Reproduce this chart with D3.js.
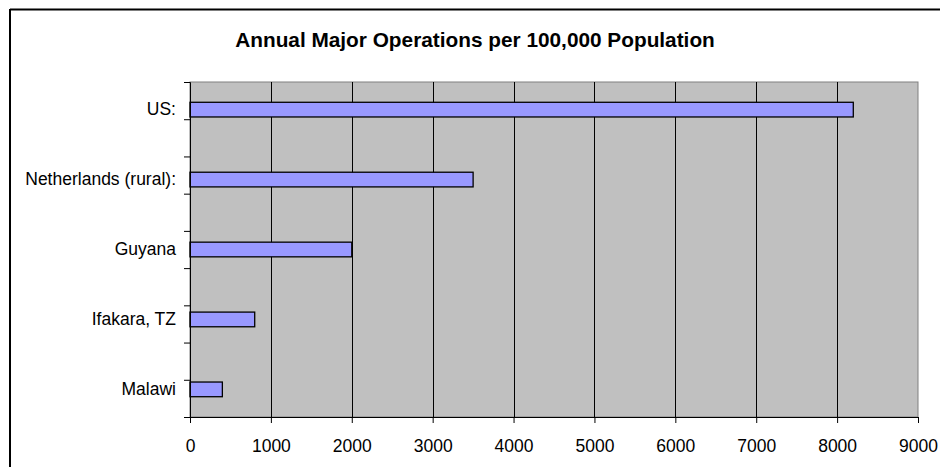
<!DOCTYPE html>
<html>

<head>
	<meta charset="utf-8">
	<title>Annual Major Operations</title>
	<script type="text/javascript" src="https://cdn.jsdelivr.net/npm/d3@7"></script>
	<style>
		body { margin: 0; background: #fff; }
		text { font-family: "Liberation Sans", Arial, sans-serif; }
	</style>
</head>

<body>
	<div id="chart"></div>

	<script type="text/javascript">
		// categories top to bottom, blanks are the empty rows in the sheet
		var categories = ["US:", "", "Netherlands (rural):", "", "Guyana", "", "Ifakara, TZ", "", "Malawi"];
		var values = [8200, null, 3500, null, 2000, null, 800, null, 400];
		var xTicks = [0, 1000, 2000, 3000, 4000, 5000, 6000, 7000, 8000, 9000];
		var title = "Annual Major Operations per 100,000 Population";

		var width = 940, height = 467;
		var plot = { left: 190, top: 82, right: 918, bottom: 417 };
		var font = "Liberation Sans, Arial, sans-serif";

		var svg = d3.select("#chart").append("svg")
			.attr("width", width).attr("height", height);

		// outer chart border (top + left only, rest is cropped)
		svg.append("line").attr("x1", 10).attr("x2", width).attr("y1", 9.5).attr("y2", 9.5)
			.attr("stroke", "#000").attr("stroke-width", 2);
		svg.append("line").attr("x1", 10).attr("x2", 10).attr("y1", 9).attr("y2", height)
			.attr("stroke", "#000").attr("stroke-width", 2);

		svg.append("text")
			.attr("x", 475).attr("y", 47)
			.attr("text-anchor", "middle")
			.attr("font-size", 20.8).attr("font-weight", "bold")
			.text(title);

		var x = d3.scaleLinear().domain([0, 9000]).range([plot.left, plot.right]);
		var y = d3.scaleBand().domain(d3.range(categories.length))
			.range([plot.top, plot.bottom]).padding(0.58);
		var yEdge = d3.scaleLinear().domain([0, categories.length]).range([plot.top, plot.bottom]);

		// plot area
		svg.append("rect")
			.attr("x", plot.left).attr("y", plot.top)
			.attr("width", plot.right - plot.left).attr("height", plot.bottom - plot.top)
			.attr("fill", "#c0c0c0").attr("stroke", "#808080");

		// gridlines
		svg.append("g").selectAll("line")
			.data(xTicks.slice(1, -1))
			.enter().append("line")
			.attr("x1", d => Math.round(x(d)) + 0.5).attr("x2", d => Math.round(x(d)) + 0.5)
			.attr("y1", plot.top).attr("y2", plot.bottom)
			.attr("stroke", "#000");

		// bars
		svg.append("g").selectAll("rect")
			.data(values.map((v, i) => ({ i: i, v: v })).filter(d => d.v != null))
			.enter().append("rect")
			.attr("x", x(0))
			.attr("y", d => y(d.i))
			.attr("width", d => x(d.v) - x(0))
			.attr("height", y.bandwidth())
			.attr("fill", "#9999ff")
			.attr("stroke", "#000")
			.attr("stroke-width", 1.3);

		// x axis
		var xAxis = d3.axisBottom(x).tickValues(xTicks).tickFormat(d3.format("d")).tickSize(6).tickPadding(17);
		var gx = svg.append("g").attr("transform", "translate(0," + plot.bottom + ")").call(xAxis);
		gx.select(".domain").attr("stroke", "#000");
		gx.selectAll("text").attr("font-size", 17.5).attr("fill", "#000").style("font-family", font);

		// y axis: tick marks between categories, labels at centres
		var gTicks = svg.append("g").attr("transform", "translate(" + plot.left + ",0)")
			.call(d3.axisLeft(yEdge).ticks(categories.length).tickFormat("").tickSize(6).tickSizeOuter(6));
		gTicks.select(".domain").attr("stroke", "#000");

		var gy = svg.append("g").attr("transform", "translate(" + (plot.left - 14) + ",0)")
			.call(d3.axisLeft(y).tickSize(0).tickPadding(0).tickFormat(i => categories[i]));
		gy.select(".domain").remove();
		gy.selectAll("text").attr("font-size", 17.5).attr("fill", "#000").style("font-family", font);
	</script>

</body>

</html>
